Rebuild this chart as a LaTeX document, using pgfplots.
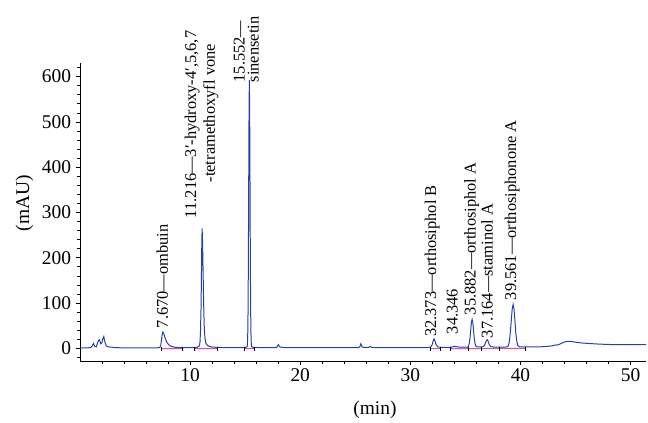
\documentclass[border=0pt]{standalone}
\usepackage{fontspec}
\setmainfont{Liberation Serif}
\usepackage{pgfplots}
\usepackage{pgfplotstable}
\pgfplotsset{compat=1.18}
\definecolor{trace}{RGB}{38,64,170}
\definecolor{pinkb}{RGB}{215,80,170}
\pgfplotstableread{
x y
0.0 1
0.6 1
0.95 1.5
1.08 4
1.22 11
1.35 4
1.48 3
1.6 12
1.68 17
1.77 19
1.88 10
1.98 12
2.08 22
2.16 26
2.26 14
2.4 5
2.6 3
2.9 2.5
3.2 1.5
4 1
5 1
6 0.8
7 1
7.25 2
7.33 6
7.4 18
7.46 30
7.52 36
7.6 33
7.7 25
7.85 15
8.05 8
8.3 4
8.7 2
9.3 1.5
10 1.5
10.6 2
10.8 4
10.86 8
10.9 15
10.94 36
10.99 86
11.03 161
11.06 230
11.09 265
11.13 236
11.18 168
11.23 98
11.28 50
11.34 24
11.42 12
11.55 7
11.75 4
12.1 2.5
12.6 2
13.5 1.5
14.5 1.5
15.0 2
15.17 3
15.2 8
15.23 27
15.26 80
15.29 192
15.32 358
15.35 519
15.38 592
15.41 519
15.44 358
15.47 192
15.5 80
15.53 27
15.56 8
15.6 3
15.8 2
16.5 1.5
17.5 1.5
17.85 2
17.95 6
18.02 8
18.1 4
18.3 2
19 1.5
22 1.5
25.3 1.5
25.42 4
25.5 10
25.6 4
25.75 2
26.2 2
26.35 4
26.5 2
27 1.5
30 1.5
31.5 1.5
31.85 3
31.98 8
32.07 16
32.15 21
32.24 16
32.34 8
32.5 3
32.9 2
33.5 2
33.8 3
34.0 4.5
34.2 3.5
34.5 2.5
35.0 2.5
35.2 2.5
35.28 5
35.35 11
35.415 22
35.48 40
35.545 57
35.61 64
35.675 57
35.74 40
35.805 22
35.87 11
35.94 5
36.05 3
36.5 3
36.7 5
36.82 12
36.92 18
36.99 19
37.07 15
37.17 8
37.3 4
37.6 2.5
38.2 2.5
38.8 3
38.9 6
38.99 15
39.07 33
39.16 60
39.245 86
39.33 97
39.415 86
39.5 60
39.58 33
39.67 15
39.76 6
39.9 3.5
40.2 3
41 3
42 3.5
42.5 4.5
43 6
43.2 7.5
43.3 7
43.5 8.5
43.8 12
44.2 15.5
44.5 15.5
45 13.5
45.5 12
46 11
47 9.5
48 8.5
49 8
50 8
51 8
51.4 8
}\trace
\begin{document}
\begin{tikzpicture}
\begin{axis}[
  at={(0,0)}, anchor=south west,
  scale only axis, width=566bp, height=298bp,
  xmin=0, xmax=51.4, ymin=-28, ymax=630,
  axis x line*=bottom, axis y line*=left,
  xtick={10,20,30,40,50},
  minor xtick={2,4,6,8,12,14,16,18,22,24,26,28,32,34,36,38,42,44,46,48},
  ytick={0,100,200,300,400,500,600},
  minor ytick={-20,20,40,60,80,120,140,160,180,220,240,260,280,320,340,360,380,420,440,460,480,520,540,560,580,620},
  tick align=outside, major tick length=4bp, minor tick length=2.5bp,
  tick style={black, line width=0.6pt},
  axis line style={black, line width=0.8pt},
  ticklabel style={font=\fontsize{19.5}{21}\selectfont},
  yticklabel style={xshift=-1.5bp},
  /pgf/number format/assume math mode=true,
  xlabel={(min)}, ylabel={(mAU)},
  label style={font=\fontsize{19.5}{22}\selectfont},
  xlabel style={at={(axis description cs:0.521,-0.164)}, anchor=center},
  ylabel style={at={(axis description cs:-0.098,0.53)}, anchor=center},
  clip=false,
]
% integration baselines
\addplot[pinkb, line width=1pt] coordinates {(7.36,-0.8) (9.32,-0.6)};
\addplot[pinkb, line width=1pt] coordinates {(10.38,-0.6) (12.49,-0.4)};
\addplot[pinkb, line width=1pt] coordinates {(14.91,-0.6) (15.82,-0.4)};
\addplot[pinkb, line width=1pt] coordinates {(31.8,-0.8) (32.7,-0.6)};
\addplot[pinkb, line width=1pt] coordinates {(33.6,-0.6) (35.3,-0.5) (36.4,-0.4) (38.1,-0.4) (40.45,-0.2)};
\addplot[black, only marks, mark=|, mark size=2pt, mark options={line width=0.5pt}] coordinates {
(7.36,-1) (9.32,-1) (10.38,-1) (12.49,-1) (14.91,-1) (15.82,-1) (31.8,-1) (32.7,-1) (33.6,-1) (35.3,-1) (36.4,-1) (38.1,-1) (40.45,-1)};
% trace
\addplot[trace, line width=1pt] table {\trace};
% peak labels
\tikzset{plab/.style={rotate=90, anchor=west, inner sep=0pt, font=\fontsize{16.5}{18}\selectfont}}
\node[plab] at (axis cs:7.48,44) {7.670—ombuin};
\node[plab] at (axis cs:10.2,287) {11.216—3′-hydroxy-4′,5,6,7};
\node[plab] at (axis cs:11.89,366) {-tetramethoxyfl vone};
\node[plab] at (axis cs:14.46,587) {15.552—};
\node[plab] at (axis cs:15.73,587) {sinensetin};
\node[plab] at (axis cs:31.99,25) {32.373—orthosiphol B};
\node[plab] at (axis cs:33.8,31) {34.346};
\node[plab] at (axis cs:35.56,73) {35.882—orthosiphol A};
\node[plab] at (axis cs:36.97,22) {37.164—staminol A};
\node[plab] at (axis cs:39.24,106) {39.561—orthosiphonone A};
\end{axis}
\pgfresetboundingbox
\useasboundingbox (-80bp,-62bp) rectangle (568bp,361bp);
\end{tikzpicture}
\end{document}
